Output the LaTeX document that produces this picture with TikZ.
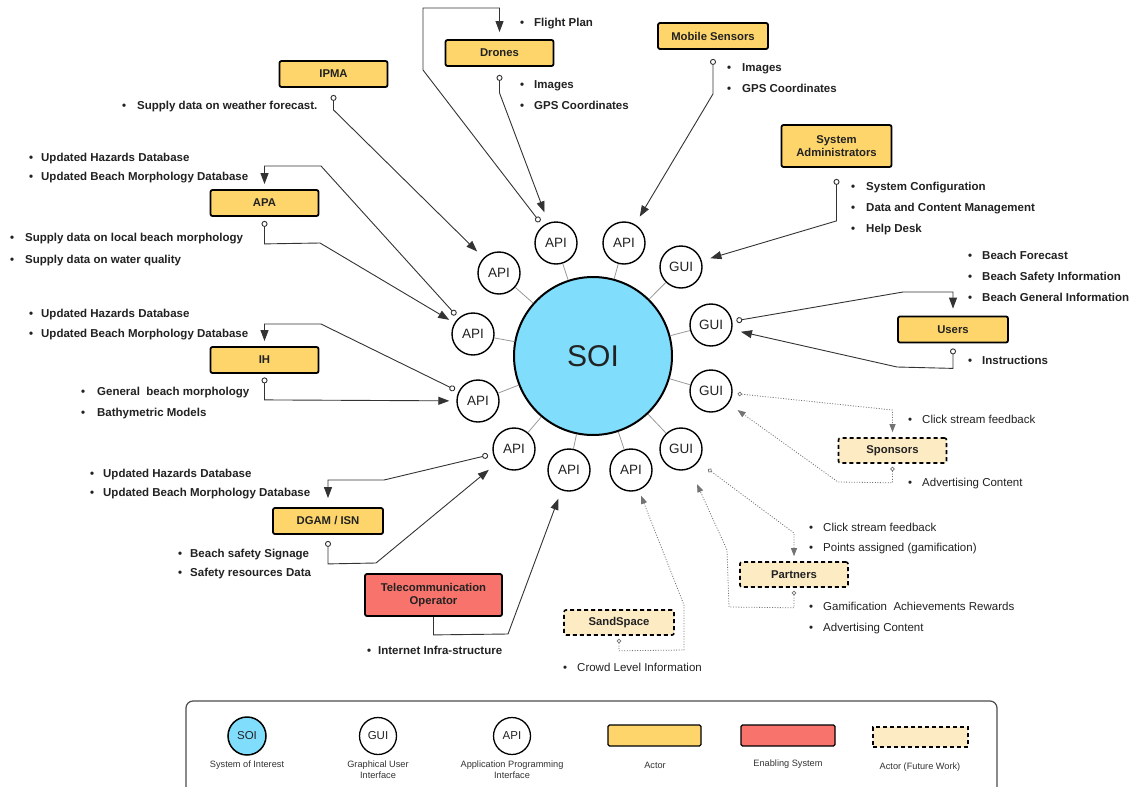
\documentclass[tikz,border=0pt]{standalone}
\usepackage{fontspec}
\setmainfont{Liberation Sans}
\usetikzlibrary{arrows.meta}
\definecolor{actorY}{HTML}{FDD56B}
\definecolor{enRed}{HTML}{F7736B}
\definecolor{futY}{HTML}{FDEBC4}
\definecolor{soiC}{HTML}{80DDFC}
\definecolor{txt}{HTML}{222222}
\newcommand\bulitem[2][10pt]{\llap{\textbullet\hspace{#1}}#2}
\tikzset{
  actorbox/.style={draw=black, line width=1.8pt, fill=actorY, rounded corners=2pt,
    minimum width=108pt, minimum height=26pt, inner sep=0pt, align=center,
    text=txt, font=\bfseries\fontsize{11.3}{13}\selectfont},
  enablebox/.style={actorbox, fill=enRed},
  futurebox/.style={actorbox, fill=futY, dash pattern=on 4pt off 3pt, line width=1.6pt},
  iface/.style={circle, draw=black, line width=1.4pt, fill=white, minimum size=42pt,
    inner sep=0pt, text=txt, font=\fontsize{13.5}{15}\selectfont},
  spoke/.style={draw=black!40, line width=0.8pt},
  conn/.style={draw=black!80, line width=0.9pt,
    {Circle[open,length=6pt,width=6pt,line width=0.9pt]}-{Triangle[length=11pt,width=8pt]},
    shorten >=9pt},
  connb/.style={draw=black!80, line width=0.9pt, -{Triangle[length=11pt,width=8pt]}, shorten >=9pt},
  dconn/.style={draw=black!55, line width=0.8pt, dash pattern=on 1pt off 1.6pt,
    {Circle[open,length=4.5pt,width=4.5pt,line width=0.7pt]}-{Triangle[length=8pt,width=6pt]},
    shorten >=9pt},
  bt/.style={anchor=base west, inner sep=0pt, text=txt, font=\bfseries\fontsize{11.5}{13}\selectfont},
  rt/.style={anchor=base west, inner sep=0pt, text=txt, font=\fontsize{11.5}{13}\selectfont},
  legtxt/.style={inner sep=0pt, align=center, text=black!80, font=\fontsize{9.2}{10.5}\selectfont},
}
\begin{document}
\begin{tikzpicture}[x=1pt,y=-1pt]
\useasboundingbox (0,0) rectangle (1135,787);
\fill[white] (0,0) rectangle (1135,787);

% ---------- system of interest and interfaces
\node[circle, draw=black, line width=2pt, fill=soiC, minimum size=158pt, inner sep=0pt,
  text=txt, font=\fontsize{30}{32}\selectfont] (soi) at (593,356) {SOI};
\node[iface] (a1) at (499,273) {API};
\node[iface] (a2) at (473,334) {API};
\node[iface] (a3) at (478,401) {API};
\node[iface] (a4) at (514,449) {API};
\node[iface] (a5) at (569,470) {API};
\node[iface] (a6) at (631,470) {API};
\node[iface] (a7) at (556,243) {API};
\node[iface] (a8) at (624,243) {API};
\node[iface] (g1) at (681,449) {GUI};
\node[iface] (g2) at (711,391) {GUI};
\node[iface] (g3) at (711,325) {GUI};
\node[iface] (g4) at (681,267) {GUI};
\foreach \n in {a1,a2,a3,a4,a5,a6,a7,a8,g1,g2,g3,g4} \draw[spoke] (soi) -- (\n);

% ---------- actors
\node[actorbox] (ipma) at (333.5,74) {IPMA};
\node[actorbox] (apa) at (264.5,203) {APA};
\node[actorbox] (drones) at (499.5,53) {Drones};
\node[actorbox, minimum width=110pt] (mobile) at (713,36) {Mobile Sensors};
\node[actorbox, minimum width=110pt, minimum height=42pt] (sysadm) at (836.5,146) {System\\Administrators};
\node[actorbox, minimum width=110pt] (users) at (953,329.5) {Users};
\node[actorbox] (ih) at (264.5,360) {IH};
\node[actorbox, minimum width=110pt] (dgam) at (328,521) {DGAM / ISN};
\node[enablebox, minimum width=137pt, minimum height=42pt] (telecom) at (433.5,595) {Telecommunication\\Operator};
\node[futurebox, minimum height=25pt] (sponsors) at (892.5,450.5) {Sponsors};
\node[futurebox, minimum height=25pt] (partners) at (794,574.5) {Partners};
\node[futurebox, minimum width=110pt, minimum height=25pt] (sandspace) at (619,622.5) {SandSpace};

% ---------- connectors (solid)
\draw[conn] ([yshift=-7pt]ipma.south) -- ++(0,15) -- (a1);
\draw[conn, shorten <=5pt, shorten >=7pt] (a7) -- (423,70) -- (423,8) -| (drones.north);
\draw[conn, shorten >=11pt] ([yshift=-8pt]drones.south) -- ++(0,18) -- (a7);
\draw[conn] ([yshift=-9pt]mobile.south) -- ++(0,35) -- (a8);
\draw[conn] ([yshift=-11pt]sysadm.south) -- ++(0,42) -- (g4);
\draw[conn, shorten <=4pt, shorten >=7pt] (g3) -- (903,292) -| (users.north);
\draw[conn] ([yshift=-5pt]users.south) -- ++(0,20) -- (897,367) -- (g3);
\draw[conn, shorten <=4pt, shorten >=5pt] (a2) -- (321,166) -| (apa.north);
\draw[conn, shorten >=6pt] ([yshift=-4pt]apa.south) -- ++(0,23) -- (320,243) -- (a2);
\draw[conn, shorten <=4pt, shorten >=5pt] (a3) -- (321,324) -| (ih.north);
\draw[conn, shorten >=7pt] ([yshift=-3.5pt]ih.south) -- ++(0,22.5) -- (a3);
\draw[conn, shorten <=5pt, shorten >=9pt] (a4) -- (384,480) -| (dgam.north);
\draw[conn, shorten >=11pt] ([yshift=-6pt]dgam.south) -- ++(0,23) -- (376,563) -- (a4);
\draw[connb] (telecom.south) -- ++(0,18) -- (508,634) -- (a5);

% ---------- connectors (future work, dotted)
\draw[dconn, shorten >=6pt] ([yshift=-3pt]sandspace.south) -- ++(0,12) -- (684,650) -- (684,605) -- (a6);
\draw[dconn, shorten <=5pt, shorten >=5pt] (g2) -- (892.5,410) -| (sponsors.north);
\draw[dconn, shorten >=11pt] ([yshift=-3pt]sponsors.south) -- ++(0,16) -- (838,482) -- (g2);
\draw[dconn, shorten <=12pt, shorten >=5pt] (g1) -- (794,533) -| (partners.north);
\draw[dconn, shorten >=17pt] ([yshift=-3pt]partners.south) -- ++(0,17) -- (729,607) -- (727,550) -- (g1);

% ---------- bullet texts
\node[bt] (tfp) at (534,27) {\bulitem{Flight Plan}};
\node[bt] (tdr1) at (534,88) {\bulitem{Images}};
\node[bt] (tdr2) at (534,109) {\bulitem{GPS Coordinates}};
\node[bt] (tms1) at (742,71) {\bulitem[11pt]{Images}};
\node[bt] (tms2) at (742,92) {\bulitem[11pt]{GPS Coordinates}};
\node[bt] (tip1) at (137,109) {\bulitem[11pt]{Supply data on weather forecast.}};
\node[bt] (tap1) at (41,161) {\bulitem[8pt]{Updated Hazards Database}};
\node[bt] (tap2) at (41,180) {\bulitem[8pt]{Updated Beach Morphology Database}};
\node[bt] (tap3) at (25,241) {\bulitem[11pt]{Supply data on local beach morphology}};
\node[bt] (tap4) at (25,263) {\bulitem[11pt]{Supply data on water quality}};
\node[bt] (tsa1) at (866,190) {\bulitem[11pt]{System Configuration}};
\node[bt] (tsa2) at (866,211) {\bulitem[11pt]{Data and Content Management}};
\node[bt] (tsa3) at (866,232) {\bulitem[11pt]{Help Desk}};
\node[bt] (tus1) at (982,259) {\bulitem{Beach Forecast}};
\node[bt] (tus2) at (982,280) {\bulitem{Beach Safety Information}};
\node[bt] (tus3) at (982,301) {\bulitem{Beach General Information}};
\node[bt] (tus4) at (982,364) {\bulitem{Instructions}};
\node[bt] (tih1) at (41,317) {\bulitem[8pt]{Updated Hazards Database}};
\node[bt] (tih2) at (41,337) {\bulitem[8pt]{Updated Beach Morphology Database}};
\node[bt] (tih3) at (97,395) {\bulitem[12pt]{General\ \ beach morphology}};
\node[bt] (tih4) at (97,416) {\bulitem[12pt]{Bathymetric Models}};
\node[bt] (tdg1) at (103,477) {\bulitem[9pt]{Updated Hazards Database}};
\node[bt] (tdg2) at (103,496) {\bulitem[9pt]{Updated Beach Morphology Database}};
\node[bt] (tdg3) at (190,557) {\bulitem[8pt]{Beach safety Signage}};
\node[bt] (tdg4) at (190,576) {\bulitem[8pt]{Safety resources Data}};
\node[bt] (ttc1) at (378,654) {\bulitem[7pt]{Internet Infra-structure}};
\node[rt] (tss1) at (577,671) {\bulitem{Crowd Level Information}};
\node[rt] (tsp1) at (922,423) {\bulitem{Click stream feedback}};
\node[rt] (tsp2) at (922,486) {\bulitem{Advertising Content}};
\node[rt] (tpa1) at (823,531) {\bulitem{Click stream feedback}};
\node[rt] (tpa2) at (823,551) {\bulitem{Points assigned (gamification)}};
\node[rt] (tpa3) at (823,610) {\bulitem{Gamification\ \ Achievements Rewards}};
\node[rt] (tpa4) at (823,631) {\bulitem{Advertising Content}};

% ---------- legend
\draw[draw=black!70, line width=1.2pt, rounded corners=7pt] (186,787) -- (186,701) -- (997,701) -- (997,787);
\node[circle, draw=black, line width=1.5pt, fill=soiC, minimum size=38pt, inner sep=0pt,
  text=txt, font=\fontsize{11.5}{12}\selectfont] (lsoi) at (247,736) {SOI};
\node[circle, draw=black, line width=1.3pt, fill=white, minimum size=37pt, inner sep=0pt,
  text=txt, font=\fontsize{11.5}{12}\selectfont] (lgui) at (378,736) {GUI};
\node[circle, draw=black, line width=1.3pt, fill=white, minimum size=37pt, inner sep=0pt,
  text=txt, font=\fontsize{11.5}{12}\selectfont] (lapi) at (512,736) {API};
\node[draw=black, line width=1.2pt, fill=actorY, rounded corners=1.5pt, minimum width=93pt,
  minimum height=21pt, inner sep=0pt] (lact) at (654.5,735.5) {};
\node[draw=black, line width=1.2pt, fill=enRed, rounded corners=1.5pt, minimum width=94pt,
  minimum height=21pt, inner sep=0pt] (len) at (788,735.5) {};
\node[draw=black, line width=1.4pt, fill=futY, dash pattern=on 4pt off 3pt, minimum width=95pt,
  minimum height=20pt, inner sep=0pt] (lfw) at (920.5,737) {};
\node[legtxt] (llsoi) at (247,765) {System of Interest};
\node[legtxt] (llgui) at (378,769.5) {Graphical User\\Interface};
\node[legtxt] (llapi) at (512,769.5) {Application Programming\\Interface};
\node[legtxt] (llact) at (655,765) {Actor};
\node[legtxt] (llen) at (788,764) {Enabling System};
\node[legtxt] (llfw) at (920,767) {Actor (Future Work)};
\end{tikzpicture}
\end{document}
